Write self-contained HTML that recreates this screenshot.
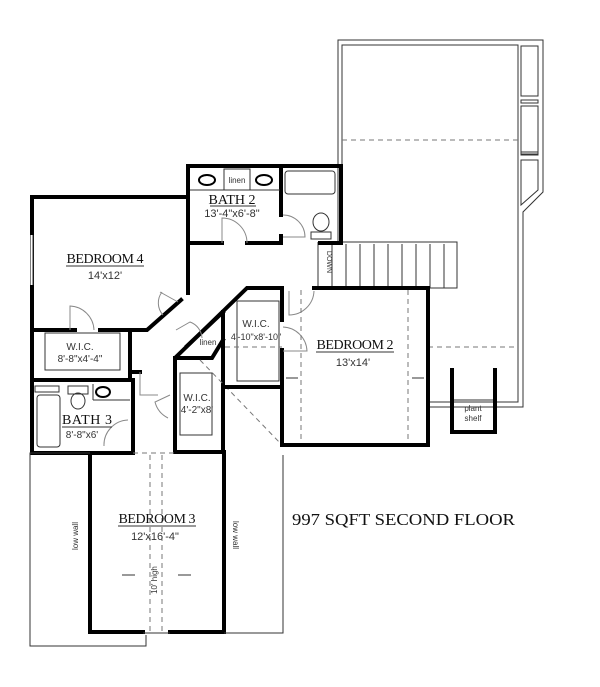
<!DOCTYPE html>
<html><head><meta charset="utf-8"><style>
html,body{margin:0;padding:0;background:#fff;}
svg{display:block;}
.w{stroke:#000;stroke-width:4;fill:none;stroke-linecap:square;}
.t{stroke:#333;stroke-width:1;fill:none;}
.g{stroke:#888;stroke-width:1;fill:none;}
.d{stroke:#777;stroke-width:1;fill:none;stroke-dasharray:5,4;}
.s{font-family:"Liberation Serif",serif;fill:#111;}
.a{font-family:"Liberation Sans",sans-serif;fill:#333;}
</style></head><body>
<svg width="600" height="687" viewBox="0 0 600 687" xmlns="http://www.w3.org/2000/svg">
<path class="t" d="M338 242 V40 H543 V192 L523 212 V407 H430"/>
<path class="t" d="M342 242 V45 H518 V402 H430"/>
<rect class="t" x="521" y="46" width="17" height="50"/>
<rect class="t" x="521" y="100" width="17" height="3"/>
<rect class="t" x="521" y="106" width="17" height="48"/>
<rect class="t" x="521" y="152" width="17" height="3"/>
<path class="t" d="M521 160 H538 V190 L521 205 Z"/>
<line class="d" x1="342" y1="140" x2="518" y2="140"/>
<line class="d" x1="428" y1="347" x2="518" y2="347"/>
<path class="w" d="M452 370 V432 H495 V370"/>
<line class="t" x1="454" y1="400" x2="493" y2="400"/>
<text class="a" x="473" y="411" font-size="8" text-anchor="middle">plant</text>
<text class="a" x="473" y="421" font-size="8" text-anchor="middle">shelf</text>
<path class="t" d="M318 242 H457 V288 H318"/>
<g class="t">
<line x1="318" y1="242" x2="318" y2="288"/><line x1="332" y1="244" x2="332" y2="288"/><line x1="346" y1="244" x2="346" y2="288"/><line x1="360" y1="244" x2="360" y2="288"/><line x1="374" y1="244" x2="374" y2="288"/><line x1="388" y1="244" x2="388" y2="288"/><line x1="402" y1="244" x2="402" y2="288"/><line x1="416" y1="244" x2="416" y2="288"/><line x1="430" y1="244" x2="430" y2="288"/><line x1="444" y1="244" x2="444" y2="288"/>
</g>
<text class="a" x="327" y="262" font-size="7" transform="rotate(90 327 262)" text-anchor="middle">DOWN</text>
<path class="w" d="M188 243 V166 H341 V243"/>
<line class="w" x1="281" y1="166" x2="281" y2="215"/>
<line class="w" x1="281" y1="236" x2="281" y2="243"/>
<line class="w" x1="188" y1="243" x2="222" y2="243"/>
<line class="w" x1="247" y1="243" x2="281" y2="243"/>
<line class="w" x1="320" y1="243" x2="341" y2="243"/>
<line class="t" x1="190" y1="190" x2="280" y2="190"/>
<rect class="t" x="224" y="169" width="26" height="21"/>
<text class="a" x="237" y="183" font-size="8" text-anchor="middle">linen</text>
<ellipse cx="207" cy="180" rx="8" ry="5" class="w" style="stroke-width:2"/>
<ellipse cx="264" cy="180" rx="8" ry="5" class="w" style="stroke-width:2"/>
<rect class="t" x="285" y="171" width="50" height="23" rx="3"/>
<ellipse class="t" cx="321" cy="222" rx="8" ry="9"/>
<rect class="t" x="311" y="232" width="20" height="7"/>
<path class="g" d="M222 243 V218 A25 25 0 0 1 247 243"/>
<path class="g" d="M283 215 A22 22 0 0 1 305 237 H283"/>
<text class="s" x="232" y="204" font-size="14" text-anchor="middle" textLength="47">BATH 2</text>
<line x1="210" y1="206" x2="256" y2="206" stroke="#333"/>
<text class="a" x="232" y="217" font-size="11" text-anchor="middle">13'-4"x6'-8"</text>
<path class="w" d="M188 197 H32 V383"/>
<path class="w" d="M188 197 V293 M181 300 L147 330 H100 M75 330 H32"/>
<line stroke="#fff" stroke-width="3" x1="32" y1="235" x2="32" y2="285"/>
<line class="t" x1="33" y1="235" x2="33" y2="285"/>
<path class="g" d="M70 330 V306 A25 25 0 0 1 94 330"/>
<path class="g" d="M160 292 L178 302 M162 292 A18 18 0 0 0 163 315"/>
<text class="s" x="105" y="263" font-size="14" text-anchor="middle" textLength="77">BEDROOM 4</text>
<line x1="66" y1="266" x2="144" y2="266" stroke="#333"/>
<text class="a" x="105" y="279" font-size="11" text-anchor="middle">14'x12'</text>
<path class="w" d="M32 380 H130 V330"/>
<rect class="t" x="45" y="333" width="75" height="37"/>
<text class="a" x="80" y="350" font-size="10" text-anchor="middle">W.I.C.</text>
<text class="a" x="80" y="362" font-size="10" text-anchor="middle">8'-8"x4'-4"</text>
<line class="w" x1="133" y1="372" x2="140" y2="372"/>
<path class="w" d="M32 380 V453 H133 V380"/>
<rect class="t" x="37" y="395" width="23" height="52" rx="3"/>
<rect class="t" x="35" y="386" width="24" height="6"/>
<rect class="t" x="68" y="386" width="20" height="8"/>
<ellipse class="t" cx="78" cy="401" rx="7" ry="8"/>
<ellipse cx="103" cy="392" rx="7" ry="5" class="w" style="stroke-width:2"/>
<line class="t" x1="93" y1="384" x2="93" y2="400"/><line class="t" x1="93" y1="400" x2="130" y2="400"/>
<path class="g" d="M128 420 A25 25 0 0 0 104 446"/>
<text class="s" x="87" y="424" font-size="14" text-anchor="middle" textLength="50">BATH 3</text>
<line x1="62" y1="427" x2="112" y2="427" stroke="#333"/>
<text class="a" x="82" y="438" font-size="10" text-anchor="middle">8'-8"x6'</text>
<path class="w" d="M282 288 H247 L175 358 V452 H224"/>
<path class="w" d="M223 312 L187 346 M223 340 L212 358 H175 M223 312 V452"/>
<path class="g" d="M176 330 L190 322 A18 18 0 0 1 202 338"/>
<text class="a" x="208" y="345" font-size="8" text-anchor="middle">linen</text>
<path class="g" d="M140 372 V395 H158 M170 395 L155 402 A25 25 0 0 0 168 418"/>
<rect class="t" x="180" y="373" width="32" height="62"/>
<text class="a" x="197" y="401" font-size="10" text-anchor="middle">W.I.C.</text>
<text class="a" x="197" y="413" font-size="10" text-anchor="middle">4'-2"x8'</text>
<line class="d" x1="200" y1="360" x2="282" y2="445"/>
<path class="w" d="M223 387 H282"/>
<rect class="t" x="237" y="301" width="42" height="80"/>
<line class="d" x1="225" y1="347" x2="282" y2="347"/>
<text class="a" x="256" y="327" font-size="10" text-anchor="middle">W.I.C.</text>
<text class="a" x="256" y="340" font-size="9" text-anchor="middle">4'-10"x8'-10"</text>
<path class="w" d="M282 288 V320 M282 350 V445 H428 V288 H314"/>
<path class="g" d="M289 291 V315 A25 25 0 0 0 314 291"/>
<path class="g" d="M283 327 A25 25 0 0 1 307 351 H283"/>
<line class="d" x1="301" y1="290" x2="301" y2="443"/>
<line class="d" x1="408" y1="290" x2="408" y2="443"/>
<line class="t" x1="286" y1="378" x2="298" y2="378"/>
<line class="t" x1="412" y1="378" x2="424" y2="378"/>
<text class="s" x="355" y="349" font-size="14" text-anchor="middle" textLength="77">BEDROOM 2</text>
<line x1="316" y1="352" x2="394" y2="352" stroke="#333"/>
<text class="a" x="353" y="366" font-size="11" text-anchor="middle">13'x14'</text>
<path class="w" d="M90 453 V632 H143 M170 632 H224 V452"/>
<line class="t" x1="143" y1="633" x2="170" y2="633"/>
<line class="d" x1="133" y1="453" x2="175" y2="453"/>
<line class="d" x1="150" y1="455" x2="150" y2="631"/>
<line class="d" x1="162" y1="455" x2="162" y2="631"/>
<path class="t" d="M90 453 H30 V646 H146 V635"/>
<path class="t" d="M224 633 H283 V455"/>
<line class="t" x1="122" y1="575" x2="135" y2="575"/>
<line class="t" x1="178" y1="575" x2="191" y2="575"/>
<text class="a" x="78" y="536" font-size="8" transform="rotate(-90 78 536)" text-anchor="middle">low wall</text>
<text class="a" x="233" y="535" font-size="8" transform="rotate(90 233 535)" text-anchor="middle">low wall</text>
<text class="a" x="157" y="580" font-size="8" transform="rotate(-90 157 580)" text-anchor="middle">10' high</text>
<text class="s" x="157" y="523" font-size="14" text-anchor="middle" textLength="77">BEDROOM 3</text>
<line x1="118" y1="526" x2="196" y2="526" stroke="#333"/>
<text class="a" x="155" y="540" font-size="11" text-anchor="middle">12'x16'-4"</text>
<text class="s" x="292" y="525" font-size="17" textLength="223" lengthAdjust="spacingAndGlyphs">997 SQFT SECOND FLOOR</text>
</svg>
</body></html>
